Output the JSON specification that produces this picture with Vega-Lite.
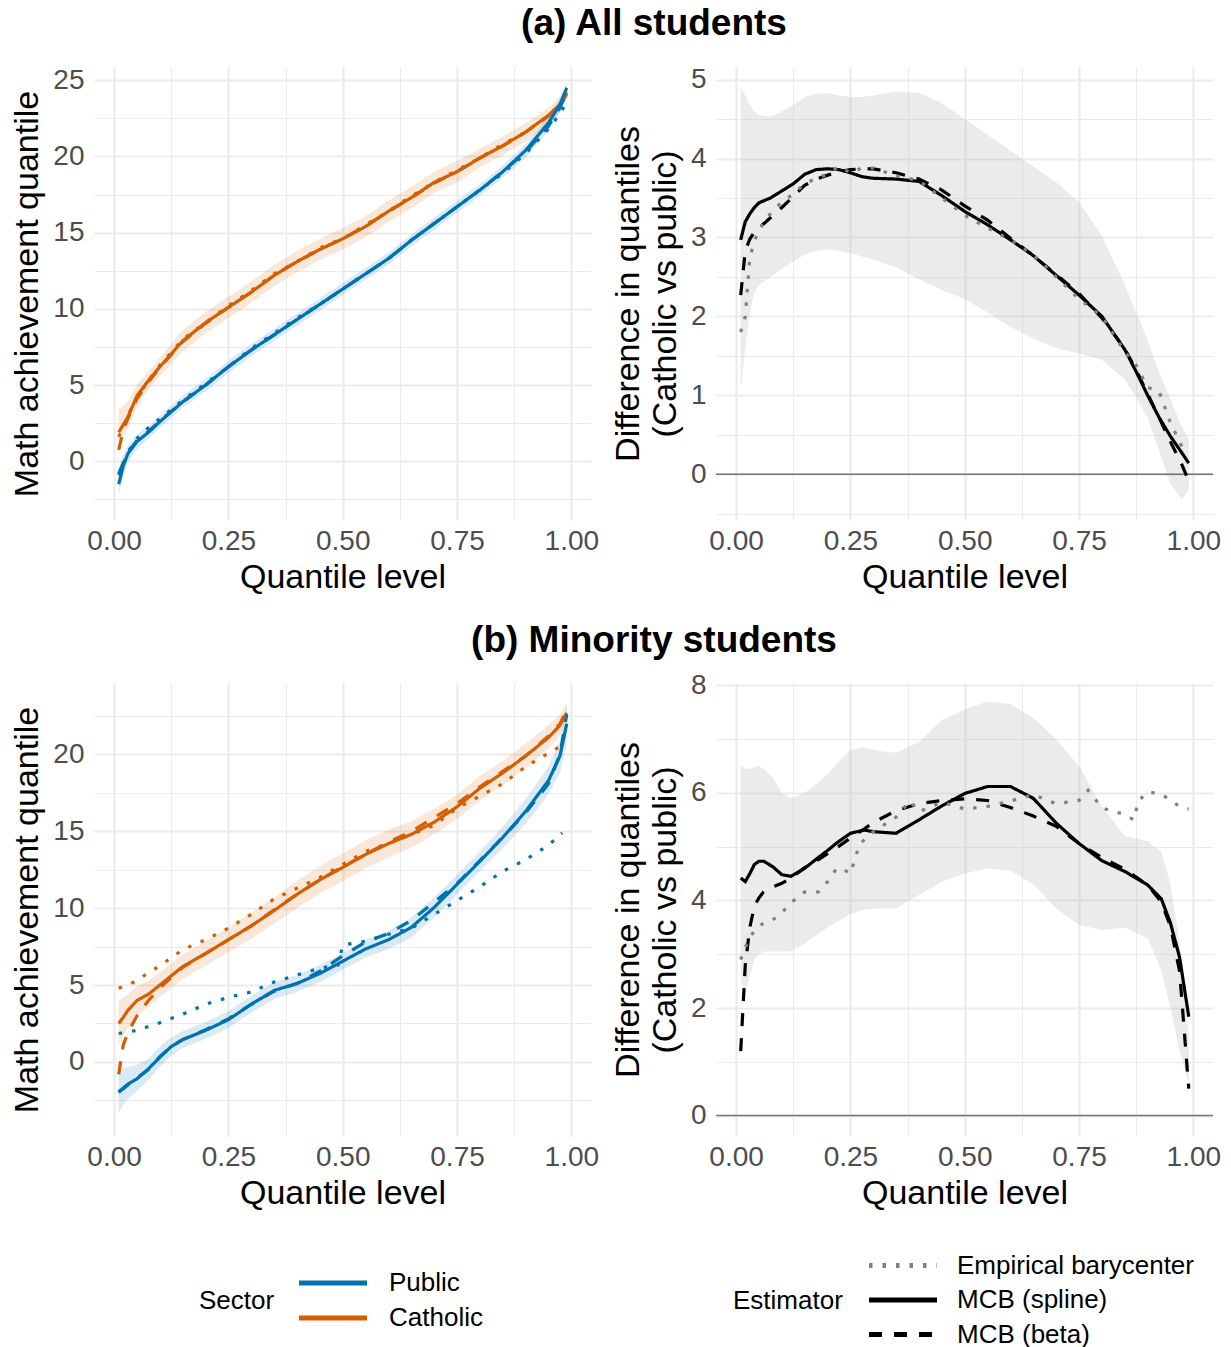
{
"$schema": "https://vega.github.io/schema/vega-lite/v6.json",
"background": "white",
"padding": {"left": 10, "top": 5, "right": 5, "bottom": 0},
"bounds": "flush",
"columns": 2,
"spacing": {"row": 163, "column": 125},
"resolve": {"scale": {"color": "independent", "strokeDash": "independent"}, "legend": {"color": "independent", "strokeDash": "independent"}},
"datasets": {
"tl_lines": [
{"sector":"Catholic","estimator":"MCB (spline)","q":0.01,"v":1.9},{"sector":"Catholic","estimator":"MCB (spline)","q":0.02,"v":2.4},{"sector":"Catholic","estimator":"MCB (spline)","q":0.03,"v":2.9},{"sector":"Catholic","estimator":"MCB (spline)","q":0.05,"v":4.3},{"sector":"Catholic","estimator":"MCB (spline)","q":0.075,"v":5.3},{"sector":"Catholic","estimator":"MCB (spline)","q":0.1,"v":6.2},{"sector":"Catholic","estimator":"MCB (spline)","q":0.15,"v":7.9},{"sector":"Catholic","estimator":"MCB (spline)","q":0.2,"v":9.1},{"sector":"Catholic","estimator":"MCB (spline)","q":0.25,"v":10.1},{"sector":"Catholic","estimator":"MCB (spline)","q":0.3,"v":11.1},{"sector":"Catholic","estimator":"MCB (spline)","q":0.35,"v":12.2},{"sector":"Catholic","estimator":"MCB (spline)","q":0.4,"v":13.1},{"sector":"Catholic","estimator":"MCB (spline)","q":0.45,"v":13.9},{"sector":"Catholic","estimator":"MCB (spline)","q":0.5,"v":14.6},{"sector":"Catholic","estimator":"MCB (spline)","q":0.55,"v":15.4},{"sector":"Catholic","estimator":"MCB (spline)","q":0.6,"v":16.4},{"sector":"Catholic","estimator":"MCB (spline)","q":0.65,"v":17.3},{"sector":"Catholic","estimator":"MCB (spline)","q":0.7,"v":18.3},{"sector":"Catholic","estimator":"MCB (spline)","q":0.75,"v":19.0},{"sector":"Catholic","estimator":"MCB (spline)","q":0.8,"v":19.9},{"sector":"Catholic","estimator":"MCB (spline)","q":0.85,"v":20.7},{"sector":"Catholic","estimator":"MCB (spline)","q":0.9,"v":21.6},{"sector":"Catholic","estimator":"MCB (spline)","q":0.95,"v":22.7},{"sector":"Catholic","estimator":"MCB (spline)","q":0.975,"v":23.4},{"sector":"Catholic","estimator":"MCB (spline)","q":0.99,"v":24.2},
{"sector":"Catholic","estimator":"MCB (beta)","q":0.01,"v":0.75},{"sector":"Catholic","estimator":"MCB (beta)","q":0.02,"v":2.0},{"sector":"Catholic","estimator":"MCB (beta)","q":0.03,"v":2.8},{"sector":"Catholic","estimator":"MCB (beta)","q":0.05,"v":4.1},{"sector":"Catholic","estimator":"MCB (beta)","q":0.075,"v":5.2},{"sector":"Catholic","estimator":"MCB (beta)","q":0.1,"v":6.15},{"sector":"Catholic","estimator":"MCB (beta)","q":0.15,"v":7.85},{"sector":"Catholic","estimator":"MCB (beta)","q":0.2,"v":9.05},{"sector":"Catholic","estimator":"MCB (beta)","q":0.25,"v":10.1},{"sector":"Catholic","estimator":"MCB (beta)","q":0.3,"v":11.1},{"sector":"Catholic","estimator":"MCB (beta)","q":0.35,"v":12.2},{"sector":"Catholic","estimator":"MCB (beta)","q":0.4,"v":13.1},{"sector":"Catholic","estimator":"MCB (beta)","q":0.45,"v":13.9},{"sector":"Catholic","estimator":"MCB (beta)","q":0.5,"v":14.6},{"sector":"Catholic","estimator":"MCB (beta)","q":0.55,"v":15.45},{"sector":"Catholic","estimator":"MCB (beta)","q":0.6,"v":16.4},{"sector":"Catholic","estimator":"MCB (beta)","q":0.65,"v":17.3},{"sector":"Catholic","estimator":"MCB (beta)","q":0.7,"v":18.25},{"sector":"Catholic","estimator":"MCB (beta)","q":0.75,"v":19.0},{"sector":"Catholic","estimator":"MCB (beta)","q":0.8,"v":19.9},{"sector":"Catholic","estimator":"MCB (beta)","q":0.85,"v":20.7},{"sector":"Catholic","estimator":"MCB (beta)","q":0.9,"v":21.6},{"sector":"Catholic","estimator":"MCB (beta)","q":0.95,"v":22.65},{"sector":"Catholic","estimator":"MCB (beta)","q":0.975,"v":23.3},{"sector":"Catholic","estimator":"MCB (beta)","q":0.99,"v":24.1},
{"sector":"Catholic","estimator":"Empirical barycenter","q":0.01,"v":1.6},{"sector":"Catholic","estimator":"Empirical barycenter","q":0.02,"v":2.3},{"sector":"Catholic","estimator":"Empirical barycenter","q":0.03,"v":3.0},{"sector":"Catholic","estimator":"Empirical barycenter","q":0.05,"v":4.2},{"sector":"Catholic","estimator":"Empirical barycenter","q":0.075,"v":5.3},{"sector":"Catholic","estimator":"Empirical barycenter","q":0.1,"v":6.3},{"sector":"Catholic","estimator":"Empirical barycenter","q":0.15,"v":8.0},{"sector":"Catholic","estimator":"Empirical barycenter","q":0.2,"v":9.1},{"sector":"Catholic","estimator":"Empirical barycenter","q":0.25,"v":10.2},{"sector":"Catholic","estimator":"Empirical barycenter","q":0.3,"v":11.2},{"sector":"Catholic","estimator":"Empirical barycenter","q":0.35,"v":12.3},{"sector":"Catholic","estimator":"Empirical barycenter","q":0.4,"v":13.1},{"sector":"Catholic","estimator":"Empirical barycenter","q":0.45,"v":14.0},{"sector":"Catholic","estimator":"Empirical barycenter","q":0.5,"v":14.6},{"sector":"Catholic","estimator":"Empirical barycenter","q":0.55,"v":15.5},{"sector":"Catholic","estimator":"Empirical barycenter","q":0.6,"v":16.4},{"sector":"Catholic","estimator":"Empirical barycenter","q":0.65,"v":17.4},{"sector":"Catholic","estimator":"Empirical barycenter","q":0.7,"v":18.3},{"sector":"Catholic","estimator":"Empirical barycenter","q":0.75,"v":19.1},{"sector":"Catholic","estimator":"Empirical barycenter","q":0.8,"v":19.9},{"sector":"Catholic","estimator":"Empirical barycenter","q":0.85,"v":20.8},{"sector":"Catholic","estimator":"Empirical barycenter","q":0.9,"v":21.6},{"sector":"Catholic","estimator":"Empirical barycenter","q":0.95,"v":22.7},{"sector":"Catholic","estimator":"Empirical barycenter","q":0.975,"v":23.4},{"sector":"Catholic","estimator":"Empirical barycenter","q":0.99,"v":24.0},
{"sector":"Public","estimator":"MCB (spline)","q":0.01,"v":-1.5},{"sector":"Public","estimator":"MCB (spline)","q":0.02,"v":-0.3},{"sector":"Public","estimator":"MCB (spline)","q":0.03,"v":0.5},{"sector":"Public","estimator":"MCB (spline)","q":0.05,"v":1.3},{"sector":"Public","estimator":"MCB (spline)","q":0.075,"v":1.9},{"sector":"Public","estimator":"MCB (spline)","q":0.1,"v":2.6},{"sector":"Public","estimator":"MCB (spline)","q":0.15,"v":3.9},{"sector":"Public","estimator":"MCB (spline)","q":0.2,"v":5.0},{"sector":"Public","estimator":"MCB (spline)","q":0.25,"v":6.2},{"sector":"Public","estimator":"MCB (spline)","q":0.3,"v":7.3},{"sector":"Public","estimator":"MCB (spline)","q":0.35,"v":8.3},{"sector":"Public","estimator":"MCB (spline)","q":0.4,"v":9.3},{"sector":"Public","estimator":"MCB (spline)","q":0.45,"v":10.3},{"sector":"Public","estimator":"MCB (spline)","q":0.5,"v":11.3},{"sector":"Public","estimator":"MCB (spline)","q":0.55,"v":12.3},{"sector":"Public","estimator":"MCB (spline)","q":0.6,"v":13.3},{"sector":"Public","estimator":"MCB (spline)","q":0.65,"v":14.5},{"sector":"Public","estimator":"MCB (spline)","q":0.7,"v":15.6},{"sector":"Public","estimator":"MCB (spline)","q":0.75,"v":16.7},{"sector":"Public","estimator":"MCB (spline)","q":0.8,"v":17.8},{"sector":"Public","estimator":"MCB (spline)","q":0.85,"v":19.0},{"sector":"Public","estimator":"MCB (spline)","q":0.9,"v":20.4},{"sector":"Public","estimator":"MCB (spline)","q":0.95,"v":22.2},{"sector":"Public","estimator":"MCB (spline)","q":0.975,"v":23.4},{"sector":"Public","estimator":"MCB (spline)","q":0.99,"v":24.5},
{"sector":"Public","estimator":"MCB (beta)","q":0.01,"v":-0.8},{"sector":"Public","estimator":"MCB (beta)","q":0.02,"v":-0.1},{"sector":"Public","estimator":"MCB (beta)","q":0.03,"v":0.6},{"sector":"Public","estimator":"MCB (beta)","q":0.05,"v":1.35},{"sector":"Public","estimator":"MCB (beta)","q":0.075,"v":1.95},{"sector":"Public","estimator":"MCB (beta)","q":0.1,"v":2.65},{"sector":"Public","estimator":"MCB (beta)","q":0.15,"v":3.9},{"sector":"Public","estimator":"MCB (beta)","q":0.2,"v":5.0},{"sector":"Public","estimator":"MCB (beta)","q":0.25,"v":6.2},{"sector":"Public","estimator":"MCB (beta)","q":0.3,"v":7.3},{"sector":"Public","estimator":"MCB (beta)","q":0.35,"v":8.3},{"sector":"Public","estimator":"MCB (beta)","q":0.4,"v":9.3},{"sector":"Public","estimator":"MCB (beta)","q":0.45,"v":10.3},{"sector":"Public","estimator":"MCB (beta)","q":0.5,"v":11.3},{"sector":"Public","estimator":"MCB (beta)","q":0.55,"v":12.3},{"sector":"Public","estimator":"MCB (beta)","q":0.6,"v":13.3},{"sector":"Public","estimator":"MCB (beta)","q":0.65,"v":14.5},{"sector":"Public","estimator":"MCB (beta)","q":0.7,"v":15.6},{"sector":"Public","estimator":"MCB (beta)","q":0.75,"v":16.7},{"sector":"Public","estimator":"MCB (beta)","q":0.8,"v":17.8},{"sector":"Public","estimator":"MCB (beta)","q":0.85,"v":19.0},{"sector":"Public","estimator":"MCB (beta)","q":0.9,"v":20.3},{"sector":"Public","estimator":"MCB (beta)","q":0.95,"v":22.0},{"sector":"Public","estimator":"MCB (beta)","q":0.975,"v":23.2},{"sector":"Public","estimator":"MCB (beta)","q":0.99,"v":24.3},
{"sector":"Public","estimator":"Empirical barycenter","q":0.01,"v":-0.9},{"sector":"Public","estimator":"Empirical barycenter","q":0.02,"v":-0.2},{"sector":"Public","estimator":"Empirical barycenter","q":0.03,"v":0.6},{"sector":"Public","estimator":"Empirical barycenter","q":0.05,"v":1.5},{"sector":"Public","estimator":"Empirical barycenter","q":0.075,"v":2.2},{"sector":"Public","estimator":"Empirical barycenter","q":0.1,"v":2.8},{"sector":"Public","estimator":"Empirical barycenter","q":0.15,"v":4.0},{"sector":"Public","estimator":"Empirical barycenter","q":0.2,"v":5.1},{"sector":"Public","estimator":"Empirical barycenter","q":0.25,"v":6.2},{"sector":"Public","estimator":"Empirical barycenter","q":0.3,"v":7.4},{"sector":"Public","estimator":"Empirical barycenter","q":0.35,"v":8.4},{"sector":"Public","estimator":"Empirical barycenter","q":0.4,"v":9.4},{"sector":"Public","estimator":"Empirical barycenter","q":0.45,"v":10.3},{"sector":"Public","estimator":"Empirical barycenter","q":0.5,"v":11.3},{"sector":"Public","estimator":"Empirical barycenter","q":0.55,"v":12.3},{"sector":"Public","estimator":"Empirical barycenter","q":0.6,"v":13.3},{"sector":"Public","estimator":"Empirical barycenter","q":0.65,"v":14.5},{"sector":"Public","estimator":"Empirical barycenter","q":0.7,"v":15.6},{"sector":"Public","estimator":"Empirical barycenter","q":0.75,"v":16.7},{"sector":"Public","estimator":"Empirical barycenter","q":0.8,"v":17.8},{"sector":"Public","estimator":"Empirical barycenter","q":0.85,"v":18.9},{"sector":"Public","estimator":"Empirical barycenter","q":0.9,"v":20.2},{"sector":"Public","estimator":"Empirical barycenter","q":0.95,"v":21.8},{"sector":"Public","estimator":"Empirical barycenter","q":0.975,"v":22.8},{"sector":"Public","estimator":"Empirical barycenter","q":0.99,"v":23.6}
],
"tl_rib": [
{"sector":"Catholic","q":0.01,"lo":0.9,"hi":3.4},{"sector":"Catholic","q":0.02,"lo":1.5,"hi":3.6},{"sector":"Catholic","q":0.03,"lo":2.2,"hi":3.9},{"sector":"Catholic","q":0.05,"lo":3.6,"hi":5.0},{"sector":"Catholic","q":0.075,"lo":4.7,"hi":5.9},{"sector":"Catholic","q":0.1,"lo":5.6,"hi":6.8},{"sector":"Catholic","q":0.15,"lo":7.2,"hi":8.6},{"sector":"Catholic","q":0.2,"lo":8.4,"hi":9.8},{"sector":"Catholic","q":0.25,"lo":9.4,"hi":10.8},{"sector":"Catholic","q":0.3,"lo":10.4,"hi":11.8},{"sector":"Catholic","q":0.35,"lo":11.5,"hi":12.9},{"sector":"Catholic","q":0.4,"lo":12.4,"hi":13.8},{"sector":"Catholic","q":0.45,"lo":13.2,"hi":14.6},{"sector":"Catholic","q":0.5,"lo":13.9,"hi":15.3},{"sector":"Catholic","q":0.55,"lo":14.7,"hi":16.1},{"sector":"Catholic","q":0.6,"lo":15.7,"hi":17.1},{"sector":"Catholic","q":0.65,"lo":16.6,"hi":18.0},{"sector":"Catholic","q":0.7,"lo":17.6,"hi":19.0},{"sector":"Catholic","q":0.75,"lo":18.3,"hi":19.7},{"sector":"Catholic","q":0.8,"lo":19.3,"hi":20.5},{"sector":"Catholic","q":0.85,"lo":20.1,"hi":21.3},{"sector":"Catholic","q":0.9,"lo":21.0,"hi":22.2},{"sector":"Catholic","q":0.95,"lo":22.1,"hi":23.2},{"sector":"Catholic","q":0.975,"lo":22.9,"hi":23.9},{"sector":"Catholic","q":0.99,"lo":23.8,"hi":24.6},
{"sector":"Public","q":0.01,"lo":-2.2,"hi":-0.4},{"sector":"Public","q":0.02,"lo":-1.0,"hi":0.4},{"sector":"Public","q":0.03,"lo":-0.1,"hi":1.0},{"sector":"Public","q":0.05,"lo":0.8,"hi":1.8},{"sector":"Public","q":0.075,"lo":1.5,"hi":2.3},{"sector":"Public","q":0.1,"lo":2.2,"hi":3.0},{"sector":"Public","q":0.15,"lo":3.5,"hi":4.3},{"sector":"Public","q":0.2,"lo":4.6,"hi":5.4},{"sector":"Public","q":0.25,"lo":5.8,"hi":6.6},{"sector":"Public","q":0.3,"lo":6.9,"hi":7.7},{"sector":"Public","q":0.35,"lo":7.9,"hi":8.7},{"sector":"Public","q":0.4,"lo":8.9,"hi":9.7},{"sector":"Public","q":0.45,"lo":9.9,"hi":10.7},{"sector":"Public","q":0.5,"lo":10.9,"hi":11.7},{"sector":"Public","q":0.55,"lo":11.9,"hi":12.7},{"sector":"Public","q":0.6,"lo":12.9,"hi":13.7},{"sector":"Public","q":0.65,"lo":14.1,"hi":14.9},{"sector":"Public","q":0.7,"lo":15.2,"hi":16.0},{"sector":"Public","q":0.75,"lo":16.3,"hi":17.1},{"sector":"Public","q":0.8,"lo":17.4,"hi":18.2},{"sector":"Public","q":0.85,"lo":18.6,"hi":19.4},{"sector":"Public","q":0.9,"lo":19.9,"hi":20.8},{"sector":"Public","q":0.95,"lo":21.7,"hi":22.6},{"sector":"Public","q":0.975,"lo":22.9,"hi":23.8},{"sector":"Public","q":0.99,"lo":24.0,"hi":24.9}
],
"tr_lines": [
{"estimator":"MCB (spline)","q":0.01,"v":2.97},{"estimator":"MCB (spline)","q":0.02,"v":3.2},{"estimator":"MCB (spline)","q":0.03,"v":3.3},{"estimator":"MCB (spline)","q":0.04,"v":3.38},{"estimator":"MCB (spline)","q":0.05,"v":3.44},{"estimator":"MCB (spline)","q":0.075,"v":3.5},{"estimator":"MCB (spline)","q":0.1,"v":3.59},{"estimator":"MCB (spline)","q":0.125,"v":3.68},{"estimator":"MCB (spline)","q":0.15,"v":3.8},{"estimator":"MCB (spline)","q":0.175,"v":3.86},{"estimator":"MCB (spline)","q":0.2,"v":3.87},{"estimator":"MCB (spline)","q":0.225,"v":3.86},{"estimator":"MCB (spline)","q":0.25,"v":3.82},{"estimator":"MCB (spline)","q":0.275,"v":3.77},{"estimator":"MCB (spline)","q":0.3,"v":3.75},{"estimator":"MCB (spline)","q":0.35,"v":3.74},{"estimator":"MCB (spline)","q":0.4,"v":3.71},{"estimator":"MCB (spline)","q":0.45,"v":3.53},{"estimator":"MCB (spline)","q":0.5,"v":3.33},{"estimator":"MCB (spline)","q":0.55,"v":3.16},{"estimator":"MCB (spline)","q":0.6,"v":2.97},{"estimator":"MCB (spline)","q":0.65,"v":2.77},{"estimator":"MCB (spline)","q":0.7,"v":2.52},{"estimator":"MCB (spline)","q":0.75,"v":2.27},{"estimator":"MCB (spline)","q":0.8,"v":2.0},{"estimator":"MCB (spline)","q":0.85,"v":1.58},{"estimator":"MCB (spline)","q":0.875,"v":1.3},{"estimator":"MCB (spline)","q":0.9,"v":1.0},{"estimator":"MCB (spline)","q":0.925,"v":0.72},{"estimator":"MCB (spline)","q":0.95,"v":0.48},{"estimator":"MCB (spline)","q":0.975,"v":0.27},{"estimator":"MCB (spline)","q":0.99,"v":0.14},
{"estimator":"MCB (beta)","q":0.01,"v":2.27},{"estimator":"MCB (beta)","q":0.02,"v":2.83},{"estimator":"MCB (beta)","q":0.03,"v":2.98},{"estimator":"MCB (beta)","q":0.04,"v":3.07},{"estimator":"MCB (beta)","q":0.05,"v":3.12},{"estimator":"MCB (beta)","q":0.075,"v":3.25},{"estimator":"MCB (beta)","q":0.1,"v":3.38},{"estimator":"MCB (beta)","q":0.125,"v":3.52},{"estimator":"MCB (beta)","q":0.15,"v":3.66},{"estimator":"MCB (beta)","q":0.175,"v":3.74},{"estimator":"MCB (beta)","q":0.2,"v":3.79},{"estimator":"MCB (beta)","q":0.225,"v":3.83},{"estimator":"MCB (beta)","q":0.25,"v":3.86},{"estimator":"MCB (beta)","q":0.275,"v":3.87},{"estimator":"MCB (beta)","q":0.3,"v":3.87},{"estimator":"MCB (beta)","q":0.35,"v":3.82},{"estimator":"MCB (beta)","q":0.4,"v":3.74},{"estimator":"MCB (beta)","q":0.45,"v":3.6},{"estimator":"MCB (beta)","q":0.5,"v":3.4},{"estimator":"MCB (beta)","q":0.55,"v":3.22},{"estimator":"MCB (beta)","q":0.6,"v":2.99},{"estimator":"MCB (beta)","q":0.65,"v":2.77},{"estimator":"MCB (beta)","q":0.7,"v":2.53},{"estimator":"MCB (beta)","q":0.75,"v":2.29},{"estimator":"MCB (beta)","q":0.8,"v":1.98},{"estimator":"MCB (beta)","q":0.85,"v":1.59},{"estimator":"MCB (beta)","q":0.875,"v":1.32},{"estimator":"MCB (beta)","q":0.9,"v":1.02},{"estimator":"MCB (beta)","q":0.925,"v":0.72},{"estimator":"MCB (beta)","q":0.95,"v":0.41},{"estimator":"MCB (beta)","q":0.975,"v":0.12},{"estimator":"MCB (beta)","q":0.99,"v":-0.09},
{"estimator":"Empirical barycenter","q":0.01,"v":1.8},{"estimator":"Empirical barycenter","q":0.02,"v":2.0},{"estimator":"Empirical barycenter","q":0.03,"v":2.75},{"estimator":"Empirical barycenter","q":0.04,"v":2.95},{"estimator":"Empirical barycenter","q":0.05,"v":3.1},{"estimator":"Empirical barycenter","q":0.075,"v":3.3},{"estimator":"Empirical barycenter","q":0.1,"v":3.45},{"estimator":"Empirical barycenter","q":0.125,"v":3.55},{"estimator":"Empirical barycenter","q":0.15,"v":3.68},{"estimator":"Empirical barycenter","q":0.175,"v":3.75},{"estimator":"Empirical barycenter","q":0.2,"v":3.8},{"estimator":"Empirical barycenter","q":0.225,"v":3.9},{"estimator":"Empirical barycenter","q":0.25,"v":3.82},{"estimator":"Empirical barycenter","q":0.275,"v":3.88},{"estimator":"Empirical barycenter","q":0.3,"v":3.88},{"estimator":"Empirical barycenter","q":0.35,"v":3.78},{"estimator":"Empirical barycenter","q":0.4,"v":3.72},{"estimator":"Empirical barycenter","q":0.45,"v":3.5},{"estimator":"Empirical barycenter","q":0.5,"v":3.28},{"estimator":"Empirical barycenter","q":0.55,"v":3.12},{"estimator":"Empirical barycenter","q":0.6,"v":2.97},{"estimator":"Empirical barycenter","q":0.65,"v":2.78},{"estimator":"Empirical barycenter","q":0.7,"v":2.5},{"estimator":"Empirical barycenter","q":0.75,"v":2.22},{"estimator":"Empirical barycenter","q":0.8,"v":2.0},{"estimator":"Empirical barycenter","q":0.85,"v":1.55},{"estimator":"Empirical barycenter","q":0.875,"v":1.38},{"estimator":"Empirical barycenter","q":0.9,"v":1.1},{"estimator":"Empirical barycenter","q":0.925,"v":1.05},{"estimator":"Empirical barycenter","q":0.95,"v":0.65},{"estimator":"Empirical barycenter","q":0.975,"v":0.35},{"estimator":"Empirical barycenter","q":0.99,"v":0.42}
],
"tr_rib": [
{"q":0.01,"lo":1.05,"hi":4.9},{"q":0.02,"lo":1.6,"hi":4.8},{"q":0.03,"lo":2.05,"hi":4.68},{"q":0.04,"lo":2.3,"hi":4.6},{"q":0.05,"lo":2.4,"hi":4.55},{"q":0.075,"lo":2.5,"hi":4.53},{"q":0.1,"lo":2.6,"hi":4.6},{"q":0.125,"lo":2.7,"hi":4.68},{"q":0.15,"lo":2.78,"hi":4.78},{"q":0.175,"lo":2.83,"hi":4.82},{"q":0.2,"lo":2.85,"hi":4.83},{"q":0.225,"lo":2.83,"hi":4.8},{"q":0.25,"lo":2.8,"hi":4.78},{"q":0.275,"lo":2.76,"hi":4.78},{"q":0.3,"lo":2.72,"hi":4.8},{"q":0.35,"lo":2.62,"hi":4.85},{"q":0.4,"lo":2.47,"hi":4.83},{"q":0.45,"lo":2.33,"hi":4.7},{"q":0.5,"lo":2.22,"hi":4.5},{"q":0.55,"lo":2.05,"hi":4.3},{"q":0.6,"lo":1.87,"hi":4.1},{"q":0.65,"lo":1.72,"hi":3.9},{"q":0.7,"lo":1.6,"hi":3.7},{"q":0.75,"lo":1.53,"hi":3.45},{"q":0.8,"lo":1.45,"hi":3.02},{"q":0.85,"lo":1.2,"hi":2.4},{"q":0.875,"lo":0.98,"hi":2.05},{"q":0.9,"lo":0.72,"hi":1.7},{"q":0.925,"lo":0.3,"hi":1.3},{"q":0.95,"lo":-0.12,"hi":0.95},{"q":0.975,"lo":-0.32,"hi":0.6},{"q":0.99,"lo":-0.2,"hi":0.45}
],
"bl_lines": [
{"sector":"Catholic","estimator":"MCB (spline)","q":0.01,"v":2.5},{"sector":"Catholic","estimator":"MCB (spline)","q":0.02,"v":2.9},{"sector":"Catholic","estimator":"MCB (spline)","q":0.03,"v":3.35},{"sector":"Catholic","estimator":"MCB (spline)","q":0.05,"v":4.0},{"sector":"Catholic","estimator":"MCB (spline)","q":0.075,"v":4.4},{"sector":"Catholic","estimator":"MCB (spline)","q":0.1,"v":5.0},{"sector":"Catholic","estimator":"MCB (spline)","q":0.125,"v":5.6},{"sector":"Catholic","estimator":"MCB (spline)","q":0.15,"v":6.2},{"sector":"Catholic","estimator":"MCB (spline)","q":0.2,"v":7.05},{"sector":"Catholic","estimator":"MCB (spline)","q":0.25,"v":7.95},{"sector":"Catholic","estimator":"MCB (spline)","q":0.3,"v":8.85},{"sector":"Catholic","estimator":"MCB (spline)","q":0.35,"v":9.85},{"sector":"Catholic","estimator":"MCB (spline)","q":0.4,"v":10.9},{"sector":"Catholic","estimator":"MCB (spline)","q":0.45,"v":11.85},{"sector":"Catholic","estimator":"MCB (spline)","q":0.5,"v":12.65},{"sector":"Catholic","estimator":"MCB (spline)","q":0.55,"v":13.5},{"sector":"Catholic","estimator":"MCB (spline)","q":0.6,"v":14.2},{"sector":"Catholic","estimator":"MCB (spline)","q":0.65,"v":14.8},{"sector":"Catholic","estimator":"MCB (spline)","q":0.7,"v":15.6},{"sector":"Catholic","estimator":"MCB (spline)","q":0.75,"v":16.6},{"sector":"Catholic","estimator":"MCB (spline)","q":0.8,"v":17.8},{"sector":"Catholic","estimator":"MCB (spline)","q":0.85,"v":18.8},{"sector":"Catholic","estimator":"MCB (spline)","q":0.9,"v":19.9},{"sector":"Catholic","estimator":"MCB (spline)","q":0.95,"v":21.1},{"sector":"Catholic","estimator":"MCB (spline)","q":0.975,"v":21.9},{"sector":"Catholic","estimator":"MCB (spline)","q":0.99,"v":22.7},
{"sector":"Catholic","estimator":"MCB (beta)","q":0.01,"v":-0.8},{"sector":"Catholic","estimator":"MCB (beta)","q":0.02,"v":1.1},{"sector":"Catholic","estimator":"MCB (beta)","q":0.03,"v":1.9},{"sector":"Catholic","estimator":"MCB (beta)","q":0.05,"v":3.0},{"sector":"Catholic","estimator":"MCB (beta)","q":0.075,"v":4.0},{"sector":"Catholic","estimator":"MCB (beta)","q":0.1,"v":4.8},{"sector":"Catholic","estimator":"MCB (beta)","q":0.125,"v":5.5},{"sector":"Catholic","estimator":"MCB (beta)","q":0.15,"v":6.15},{"sector":"Catholic","estimator":"MCB (beta)","q":0.2,"v":7.05},{"sector":"Catholic","estimator":"MCB (beta)","q":0.25,"v":7.95},{"sector":"Catholic","estimator":"MCB (beta)","q":0.3,"v":8.85},{"sector":"Catholic","estimator":"MCB (beta)","q":0.35,"v":9.9},{"sector":"Catholic","estimator":"MCB (beta)","q":0.4,"v":10.9},{"sector":"Catholic","estimator":"MCB (beta)","q":0.45,"v":11.85},{"sector":"Catholic","estimator":"MCB (beta)","q":0.5,"v":12.7},{"sector":"Catholic","estimator":"MCB (beta)","q":0.55,"v":13.5},{"sector":"Catholic","estimator":"MCB (beta)","q":0.6,"v":14.3},{"sector":"Catholic","estimator":"MCB (beta)","q":0.65,"v":15.0},{"sector":"Catholic","estimator":"MCB (beta)","q":0.7,"v":15.9},{"sector":"Catholic","estimator":"MCB (beta)","q":0.75,"v":16.8},{"sector":"Catholic","estimator":"MCB (beta)","q":0.8,"v":17.9},{"sector":"Catholic","estimator":"MCB (beta)","q":0.85,"v":18.9},{"sector":"Catholic","estimator":"MCB (beta)","q":0.9,"v":19.9},{"sector":"Catholic","estimator":"MCB (beta)","q":0.95,"v":21.2},{"sector":"Catholic","estimator":"MCB (beta)","q":0.975,"v":22.0},{"sector":"Catholic","estimator":"MCB (beta)","q":0.99,"v":22.9},
{"sector":"Catholic","estimator":"Empirical barycenter","q":0.01,"v":4.8},{"sector":"Catholic","estimator":"Empirical barycenter","q":0.03,"v":5.0},{"sector":"Catholic","estimator":"Empirical barycenter","q":0.05,"v":5.3},{"sector":"Catholic","estimator":"Empirical barycenter","q":0.075,"v":5.8},{"sector":"Catholic","estimator":"Empirical barycenter","q":0.1,"v":6.25},{"sector":"Catholic","estimator":"Empirical barycenter","q":0.15,"v":7.3},{"sector":"Catholic","estimator":"Empirical barycenter","q":0.2,"v":7.95},{"sector":"Catholic","estimator":"Empirical barycenter","q":0.25,"v":8.7},{"sector":"Catholic","estimator":"Empirical barycenter","q":0.3,"v":9.6},{"sector":"Catholic","estimator":"Empirical barycenter","q":0.35,"v":10.6},{"sector":"Catholic","estimator":"Empirical barycenter","q":0.4,"v":11.3},{"sector":"Catholic","estimator":"Empirical barycenter","q":0.45,"v":12.0},{"sector":"Catholic","estimator":"Empirical barycenter","q":0.5,"v":12.85},{"sector":"Catholic","estimator":"Empirical barycenter","q":0.55,"v":13.7},{"sector":"Catholic","estimator":"Empirical barycenter","q":0.6,"v":14.2},{"sector":"Catholic","estimator":"Empirical barycenter","q":0.65,"v":14.8},{"sector":"Catholic","estimator":"Empirical barycenter","q":0.7,"v":15.4},{"sector":"Catholic","estimator":"Empirical barycenter","q":0.75,"v":16.5},{"sector":"Catholic","estimator":"Empirical barycenter","q":0.8,"v":17.3},{"sector":"Catholic","estimator":"Empirical barycenter","q":0.85,"v":18.1},{"sector":"Catholic","estimator":"Empirical barycenter","q":0.9,"v":19.2},{"sector":"Catholic","estimator":"Empirical barycenter","q":0.95,"v":20.1},{"sector":"Catholic","estimator":"Empirical barycenter","q":0.975,"v":20.5},{"sector":"Catholic","estimator":"Empirical barycenter","q":0.99,"v":20.6},
{"sector":"Public","estimator":"MCB (spline)","q":0.01,"v":-2.0},{"sector":"Public","estimator":"MCB (spline)","q":0.02,"v":-1.7},{"sector":"Public","estimator":"MCB (spline)","q":0.03,"v":-1.45},{"sector":"Public","estimator":"MCB (spline)","q":0.05,"v":-1.1},{"sector":"Public","estimator":"MCB (spline)","q":0.075,"v":-0.45},{"sector":"Public","estimator":"MCB (spline)","q":0.1,"v":0.3},{"sector":"Public","estimator":"MCB (spline)","q":0.125,"v":1.0},{"sector":"Public","estimator":"MCB (spline)","q":0.15,"v":1.45},{"sector":"Public","estimator":"MCB (spline)","q":0.2,"v":2.05},{"sector":"Public","estimator":"MCB (spline)","q":0.25,"v":2.75},{"sector":"Public","estimator":"MCB (spline)","q":0.3,"v":3.75},{"sector":"Public","estimator":"MCB (spline)","q":0.35,"v":4.65},{"sector":"Public","estimator":"MCB (spline)","q":0.4,"v":5.1},{"sector":"Public","estimator":"MCB (spline)","q":0.45,"v":5.75},{"sector":"Public","estimator":"MCB (spline)","q":0.5,"v":6.55},{"sector":"Public","estimator":"MCB (spline)","q":0.55,"v":7.35},{"sector":"Public","estimator":"MCB (spline)","q":0.6,"v":7.95},{"sector":"Public","estimator":"MCB (spline)","q":0.65,"v":8.75},{"sector":"Public","estimator":"MCB (spline)","q":0.7,"v":10.05},{"sector":"Public","estimator":"MCB (spline)","q":0.75,"v":11.55},{"sector":"Public","estimator":"MCB (spline)","q":0.8,"v":13.05},{"sector":"Public","estimator":"MCB (spline)","q":0.85,"v":14.6},{"sector":"Public","estimator":"MCB (spline)","q":0.9,"v":16.3},{"sector":"Public","estimator":"MCB (spline)","q":0.95,"v":18.3},{"sector":"Public","estimator":"MCB (spline)","q":0.975,"v":19.9},{"sector":"Public","estimator":"MCB (spline)","q":0.99,"v":22.0},
{"sector":"Public","estimator":"MCB (beta)","q":0.01,"v":-1.9},{"sector":"Public","estimator":"MCB (beta)","q":0.02,"v":-1.75},{"sector":"Public","estimator":"MCB (beta)","q":0.03,"v":-1.5},{"sector":"Public","estimator":"MCB (beta)","q":0.05,"v":-1.05},{"sector":"Public","estimator":"MCB (beta)","q":0.075,"v":-0.5},{"sector":"Public","estimator":"MCB (beta)","q":0.1,"v":0.35},{"sector":"Public","estimator":"MCB (beta)","q":0.125,"v":1.0},{"sector":"Public","estimator":"MCB (beta)","q":0.15,"v":1.45},{"sector":"Public","estimator":"MCB (beta)","q":0.2,"v":2.1},{"sector":"Public","estimator":"MCB (beta)","q":0.25,"v":2.8},{"sector":"Public","estimator":"MCB (beta)","q":0.3,"v":3.75},{"sector":"Public","estimator":"MCB (beta)","q":0.35,"v":4.6},{"sector":"Public","estimator":"MCB (beta)","q":0.4,"v":5.1},{"sector":"Public","estimator":"MCB (beta)","q":0.45,"v":5.9},{"sector":"Public","estimator":"MCB (beta)","q":0.5,"v":6.9},{"sector":"Public","estimator":"MCB (beta)","q":0.55,"v":7.8},{"sector":"Public","estimator":"MCB (beta)","q":0.6,"v":8.35},{"sector":"Public","estimator":"MCB (beta)","q":0.65,"v":9.2},{"sector":"Public","estimator":"MCB (beta)","q":0.7,"v":10.4},{"sector":"Public","estimator":"MCB (beta)","q":0.75,"v":11.6},{"sector":"Public","estimator":"MCB (beta)","q":0.8,"v":13.1},{"sector":"Public","estimator":"MCB (beta)","q":0.85,"v":14.6},{"sector":"Public","estimator":"MCB (beta)","q":0.9,"v":16.2},{"sector":"Public","estimator":"MCB (beta)","q":0.95,"v":18.1},{"sector":"Public","estimator":"MCB (beta)","q":0.975,"v":20.0},{"sector":"Public","estimator":"MCB (beta)","q":0.99,"v":22.6},
{"sector":"Public","estimator":"Empirical barycenter","q":0.01,"v":1.85},{"sector":"Public","estimator":"Empirical barycenter","q":0.03,"v":1.95},{"sector":"Public","estimator":"Empirical barycenter","q":0.05,"v":2.05},{"sector":"Public","estimator":"Empirical barycenter","q":0.075,"v":2.3},{"sector":"Public","estimator":"Empirical barycenter","q":0.1,"v":2.55},{"sector":"Public","estimator":"Empirical barycenter","q":0.15,"v":3.1},{"sector":"Public","estimator":"Empirical barycenter","q":0.2,"v":3.75},{"sector":"Public","estimator":"Empirical barycenter","q":0.25,"v":4.2},{"sector":"Public","estimator":"Empirical barycenter","q":0.3,"v":4.55},{"sector":"Public","estimator":"Empirical barycenter","q":0.35,"v":5.2},{"sector":"Public","estimator":"Empirical barycenter","q":0.4,"v":5.65},{"sector":"Public","estimator":"Empirical barycenter","q":0.45,"v":6.1},{"sector":"Public","estimator":"Empirical barycenter","q":0.49,"v":6.3},{"sector":"Public","estimator":"Empirical barycenter","q":0.5,"v":7.6},{"sector":"Public","estimator":"Empirical barycenter","q":0.55,"v":7.85},{"sector":"Public","estimator":"Empirical barycenter","q":0.6,"v":8.3},{"sector":"Public","estimator":"Empirical barycenter","q":0.65,"v":8.7},{"sector":"Public","estimator":"Empirical barycenter","q":0.7,"v":9.6},{"sector":"Public","estimator":"Empirical barycenter","q":0.75,"v":10.5},{"sector":"Public","estimator":"Empirical barycenter","q":0.8,"v":11.4},{"sector":"Public","estimator":"Empirical barycenter","q":0.85,"v":12.4},{"sector":"Public","estimator":"Empirical barycenter","q":0.9,"v":13.15},{"sector":"Public","estimator":"Empirical barycenter","q":0.95,"v":14.1},{"sector":"Public","estimator":"Empirical barycenter","q":0.98,"v":14.9}
],
"bl_rib": [
{"sector":"Catholic","q":0.01,"lo":1.1,"hi":4.0},{"sector":"Catholic","q":0.02,"lo":1.7,"hi":4.2},{"sector":"Catholic","q":0.03,"lo":2.2,"hi":4.4},{"sector":"Catholic","q":0.05,"lo":3.0,"hi":4.9},{"sector":"Catholic","q":0.075,"lo":3.6,"hi":5.3},{"sector":"Catholic","q":0.1,"lo":4.2,"hi":5.8},{"sector":"Catholic","q":0.125,"lo":4.8,"hi":6.4},{"sector":"Catholic","q":0.15,"lo":5.4,"hi":7.0},{"sector":"Catholic","q":0.2,"lo":6.25,"hi":7.85},{"sector":"Catholic","q":0.25,"lo":7.15,"hi":8.75},{"sector":"Catholic","q":0.3,"lo":8.0,"hi":9.7},{"sector":"Catholic","q":0.35,"lo":9.0,"hi":10.7},{"sector":"Catholic","q":0.4,"lo":10.0,"hi":11.8},{"sector":"Catholic","q":0.45,"lo":10.95,"hi":12.75},{"sector":"Catholic","q":0.5,"lo":11.75,"hi":13.55},{"sector":"Catholic","q":0.55,"lo":12.6,"hi":14.4},{"sector":"Catholic","q":0.6,"lo":13.3,"hi":15.1},{"sector":"Catholic","q":0.65,"lo":13.95,"hi":15.65},{"sector":"Catholic","q":0.7,"lo":14.8,"hi":16.45},{"sector":"Catholic","q":0.75,"lo":15.8,"hi":17.4},{"sector":"Catholic","q":0.8,"lo":17.0,"hi":18.6},{"sector":"Catholic","q":0.85,"lo":18.0,"hi":19.6},{"sector":"Catholic","q":0.9,"lo":19.1,"hi":20.7},{"sector":"Catholic","q":0.95,"lo":20.4,"hi":21.9},{"sector":"Catholic","q":0.975,"lo":21.2,"hi":22.6},{"sector":"Catholic","q":0.99,"lo":22.1,"hi":23.3},
{"sector":"Public","q":0.01,"lo":-3.3,"hi":-0.5},{"sector":"Public","q":0.02,"lo":-2.8,"hi":-0.4},{"sector":"Public","q":0.03,"lo":-2.4,"hi":-0.3},{"sector":"Public","q":0.05,"lo":-1.9,"hi":-0.2},{"sector":"Public","q":0.075,"lo":-1.2,"hi":0.2},{"sector":"Public","q":0.1,"lo":-0.3,"hi":1.0},{"sector":"Public","q":0.125,"lo":0.4,"hi":1.6},{"sector":"Public","q":0.15,"lo":0.9,"hi":2.0},{"sector":"Public","q":0.2,"lo":1.5,"hi":2.6},{"sector":"Public","q":0.25,"lo":2.2,"hi":3.3},{"sector":"Public","q":0.3,"lo":3.2,"hi":4.3},{"sector":"Public","q":0.35,"lo":4.1,"hi":5.2},{"sector":"Public","q":0.4,"lo":4.55,"hi":5.65},{"sector":"Public","q":0.45,"lo":5.2,"hi":6.3},{"sector":"Public","q":0.5,"lo":6.0,"hi":7.1},{"sector":"Public","q":0.55,"lo":6.8,"hi":7.9},{"sector":"Public","q":0.6,"lo":7.35,"hi":8.55},{"sector":"Public","q":0.65,"lo":8.1,"hi":9.4},{"sector":"Public","q":0.7,"lo":9.4,"hi":10.7},{"sector":"Public","q":0.75,"lo":10.9,"hi":12.2},{"sector":"Public","q":0.8,"lo":12.4,"hi":13.7},{"sector":"Public","q":0.85,"lo":13.9,"hi":15.3},{"sector":"Public","q":0.9,"lo":15.5,"hi":17.1},{"sector":"Public","q":0.95,"lo":17.4,"hi":19.2},{"sector":"Public","q":0.975,"lo":18.8,"hi":20.9},{"sector":"Public","q":0.99,"lo":20.7,"hi":23.2}
],
"br_lines": [
{"estimator":"MCB (spline)","q":0.01,"v":4.42},{"estimator":"MCB (spline)","q":0.02,"v":4.35},{"estimator":"MCB (spline)","q":0.03,"v":4.5},{"estimator":"MCB (spline)","q":0.04,"v":4.67},{"estimator":"MCB (spline)","q":0.05,"v":4.73},{"estimator":"MCB (spline)","q":0.06,"v":4.73},{"estimator":"MCB (spline)","q":0.08,"v":4.63},{"estimator":"MCB (spline)","q":0.1,"v":4.48},{"estimator":"MCB (spline)","q":0.12,"v":4.45},{"estimator":"MCB (spline)","q":0.15,"v":4.6},{"estimator":"MCB (spline)","q":0.18,"v":4.8},{"estimator":"MCB (spline)","q":0.2,"v":4.93},{"estimator":"MCB (spline)","q":0.22,"v":5.07},{"estimator":"MCB (spline)","q":0.25,"v":5.25},{"estimator":"MCB (spline)","q":0.28,"v":5.31},{"estimator":"MCB (spline)","q":0.3,"v":5.28},{"estimator":"MCB (spline)","q":0.35,"v":5.25},{"estimator":"MCB (spline)","q":0.4,"v":5.5},{"estimator":"MCB (spline)","q":0.45,"v":5.76},{"estimator":"MCB (spline)","q":0.5,"v":5.99},{"estimator":"MCB (spline)","q":0.55,"v":6.12},{"estimator":"MCB (spline)","q":0.6,"v":6.12},{"estimator":"MCB (spline)","q":0.65,"v":5.9},{"estimator":"MCB (spline)","q":0.7,"v":5.44},{"estimator":"MCB (spline)","q":0.75,"v":5.06},{"estimator":"MCB (spline)","q":0.8,"v":4.74},{"estimator":"MCB (spline)","q":0.85,"v":4.54},{"estimator":"MCB (spline)","q":0.9,"v":4.29},{"estimator":"MCB (spline)","q":0.93,"v":4.03},{"estimator":"MCB (spline)","q":0.95,"v":3.58},{"estimator":"MCB (spline)","q":0.97,"v":2.94},{"estimator":"MCB (spline)","q":0.99,"v":1.84},
{"estimator":"MCB (beta)","q":0.01,"v":1.2},{"estimator":"MCB (beta)","q":0.02,"v":2.8},{"estimator":"MCB (beta)","q":0.03,"v":3.5},{"estimator":"MCB (beta)","q":0.04,"v":3.9},{"estimator":"MCB (beta)","q":0.05,"v":4.05},{"estimator":"MCB (beta)","q":0.06,"v":4.16},{"estimator":"MCB (beta)","q":0.08,"v":4.25},{"estimator":"MCB (beta)","q":0.1,"v":4.32},{"estimator":"MCB (beta)","q":0.12,"v":4.42},{"estimator":"MCB (beta)","q":0.15,"v":4.61},{"estimator":"MCB (beta)","q":0.18,"v":4.76},{"estimator":"MCB (beta)","q":0.2,"v":4.87},{"estimator":"MCB (beta)","q":0.22,"v":4.98},{"estimator":"MCB (beta)","q":0.25,"v":5.16},{"estimator":"MCB (beta)","q":0.28,"v":5.33},{"estimator":"MCB (beta)","q":0.3,"v":5.45},{"estimator":"MCB (beta)","q":0.35,"v":5.67},{"estimator":"MCB (beta)","q":0.4,"v":5.8},{"estimator":"MCB (beta)","q":0.45,"v":5.86},{"estimator":"MCB (beta)","q":0.5,"v":5.89},{"estimator":"MCB (beta)","q":0.55,"v":5.86},{"estimator":"MCB (beta)","q":0.6,"v":5.73},{"estimator":"MCB (beta)","q":0.65,"v":5.57},{"estimator":"MCB (beta)","q":0.7,"v":5.38},{"estimator":"MCB (beta)","q":0.75,"v":5.06},{"estimator":"MCB (beta)","q":0.8,"v":4.8},{"estimator":"MCB (beta)","q":0.85,"v":4.58},{"estimator":"MCB (beta)","q":0.9,"v":4.29},{"estimator":"MCB (beta)","q":0.93,"v":3.97},{"estimator":"MCB (beta)","q":0.95,"v":3.52},{"estimator":"MCB (beta)","q":0.97,"v":2.68},{"estimator":"MCB (beta)","q":0.99,"v":0.5},
{"estimator":"Empirical barycenter","q":0.01,"v":2.9},{"estimator":"Empirical barycenter","q":0.02,"v":3.13},{"estimator":"Empirical barycenter","q":0.04,"v":3.45},{"estimator":"Empirical barycenter","q":0.06,"v":3.58},{"estimator":"Empirical barycenter","q":0.08,"v":3.64},{"estimator":"Empirical barycenter","q":0.1,"v":3.77},{"estimator":"Empirical barycenter","q":0.12,"v":3.96},{"estimator":"Empirical barycenter","q":0.15,"v":4.16},{"estimator":"Empirical barycenter","q":0.18,"v":4.16},{"estimator":"Empirical barycenter","q":0.2,"v":4.35},{"estimator":"Empirical barycenter","q":0.22,"v":4.6},{"estimator":"Empirical barycenter","q":0.24,"v":4.55},{"estimator":"Empirical barycenter","q":0.25,"v":4.5},{"estimator":"Empirical barycenter","q":0.27,"v":5.05},{"estimator":"Empirical barycenter","q":0.3,"v":5.28},{"estimator":"Empirical barycenter","q":0.35,"v":5.55},{"estimator":"Empirical barycenter","q":0.38,"v":5.85},{"estimator":"Empirical barycenter","q":0.4,"v":5.65},{"estimator":"Empirical barycenter","q":0.45,"v":5.83},{"estimator":"Empirical barycenter","q":0.5,"v":5.7},{"estimator":"Empirical barycenter","q":0.55,"v":5.75},{"estimator":"Empirical barycenter","q":0.6,"v":5.85},{"estimator":"Empirical barycenter","q":0.65,"v":5.97},{"estimator":"Empirical barycenter","q":0.7,"v":5.8},{"estimator":"Empirical barycenter","q":0.75,"v":5.86},{"estimator":"Empirical barycenter","q":0.77,"v":6.05},{"estimator":"Empirical barycenter","q":0.8,"v":5.72},{"estimator":"Empirical barycenter","q":0.85,"v":5.6},{"estimator":"Empirical barycenter","q":0.87,"v":5.5},{"estimator":"Empirical barycenter","q":0.88,"v":5.85},{"estimator":"Empirical barycenter","q":0.9,"v":6.02},{"estimator":"Empirical barycenter","q":0.93,"v":5.98},{"estimator":"Empirical barycenter","q":0.95,"v":5.86},{"estimator":"Empirical barycenter","q":0.97,"v":5.75},{"estimator":"Empirical barycenter","q":0.99,"v":5.7}
],
"br_rib": [
{"q":0.01,"lo":2.5,"hi":6.5},{"q":0.02,"lo":2.3,"hi":6.45},{"q":0.03,"lo":2.6,"hi":6.45},{"q":0.04,"lo":2.9,"hi":6.48},{"q":0.05,"lo":3.0,"hi":6.5},{"q":0.06,"lo":3.05,"hi":6.45},{"q":0.08,"lo":3.05,"hi":6.3},{"q":0.1,"lo":3.05,"hi":6.0},{"q":0.12,"lo":3.05,"hi":5.9},{"q":0.15,"lo":3.2,"hi":6.0},{"q":0.18,"lo":3.38,"hi":6.2},{"q":0.2,"lo":3.5,"hi":6.35},{"q":0.22,"lo":3.6,"hi":6.55},{"q":0.25,"lo":3.75,"hi":6.8},{"q":0.28,"lo":3.83,"hi":6.85},{"q":0.3,"lo":3.85,"hi":6.8},{"q":0.35,"lo":3.85,"hi":6.75},{"q":0.4,"lo":4.1,"hi":6.95},{"q":0.45,"lo":4.35,"hi":7.35},{"q":0.5,"lo":4.5,"hi":7.55},{"q":0.55,"lo":4.6,"hi":7.7},{"q":0.6,"lo":4.55,"hi":7.65},{"q":0.65,"lo":4.3,"hi":7.4},{"q":0.7,"lo":3.85,"hi":7.0},{"q":0.75,"lo":3.55,"hi":6.5},{"q":0.8,"lo":3.45,"hi":5.75},{"q":0.85,"lo":3.5,"hi":5.2},{"q":0.9,"lo":3.3,"hi":5.1},{"q":0.93,"lo":2.7,"hi":4.9},{"q":0.95,"lo":2.0,"hi":4.3},{"q":0.97,"lo":1.2,"hi":3.2},{"q":0.99,"lo":0.6,"hi":1.5}
]
},
"concat": [
{
"width": 497, "height": 453,
"title": {"text": "(a) All students", "anchor": "middle", "frame": "group", "dx": 311.5, "offset": 23, "fontSize": 37, "fontWeight": "bold", "color": "#000000"},
"layer": [
{"data": {"name": "tl_rib"}, "mark": {"type": "area", "fillOpacity": 0.15},
 "encoding": {
  "x": {"field": "q", "type": "quantitative", "scale": {"domain": [-0.044, 1.043], "nice": false, "zero": false},
        "axis": {"title": "Quantile level", "values": [0,0.125,0.25,0.375,0.5,0.625,0.75,0.875,1], "labelExpr": "(datum.value*8)%2===0 ? format(datum.value,'.2f') : ''", "gridWidth": {"condition": {"test": "(datum.value*8)%2===0", "value": 2.2}, "value": 1.1}, "labelFlush": false, "labelOverlap": false}},
  "y": {"field": "lo", "type": "quantitative", "scale": {"domain": [-3.85, 25.87], "nice": false, "zero": false},
        "axis": {"title": "Math achievement quantile", "values": [-2.5,0,2.5,5,7.5,10,12.5,15,17.5,20,22.5,25], "labelExpr": "datum.value%5===0 ? format(datum.value,'d') : ''", "gridWidth": {"condition": {"test": "datum.value%5===0", "value": 2.2}, "value": 1.1}, "labelOverlap": false}},
  "y2": {"field": "hi"},
  "color": {"field": "sector", "type": "nominal", "scale": {"domain": ["Public","Catholic"], "range": ["#0072B2","#D55E00"]}, "legend": null}
 }},
{"data": {"name": "tl_lines"}, "mark": {"type": "line", "strokeWidth": 3.2, "strokeCap": "butt"},
 "encoding": {
  "x": {"field": "q", "type": "quantitative"},
  "y": {"field": "v", "type": "quantitative"},
  "color": {"field": "sector", "type": "nominal", "legend": null},
  "strokeDash": {"field": "estimator", "type": "nominal", "scale": {"domain": ["Empirical barycenter","MCB (spline)","MCB (beta)"], "range": [[3.5,10],[1,0],[13,12]]}, "legend": null}
 }}
]
},
{
"width": 497, "height": 453,
"layer": [
{"data": {"name": "tr_rib"}, "mark": {"type": "area", "color": "#bdbdbd", "opacity": 0.3},
 "encoding": {
  "x": {"field": "q", "type": "quantitative", "scale": {"domain": [-0.044, 1.043], "nice": false, "zero": false},
        "axis": {"title": "Quantile level", "values": [0,0.125,0.25,0.375,0.5,0.625,0.75,0.875,1], "labelExpr": "(datum.value*8)%2===0 ? format(datum.value,'.2f') : ''", "gridWidth": {"condition": {"test": "(datum.value*8)%2===0", "value": 2.2}, "value": 1.1}, "labelFlush": false, "labelOverlap": false}},
  "y": {"field": "lo", "type": "quantitative", "scale": {"domain": [-0.58, 5.16], "nice": false, "zero": false},
        "axis": {"title": ["Difference in quantiles", "(Catholic vs public)"], "titlePadding": 8, "values": [-0.5,0,0.5,1,1.5,2,2.5,3,3.5,4,4.5,5], "labelExpr": "datum.value%1===0 ? format(datum.value,'d') : ''", "gridWidth": {"condition": {"test": "datum.value%1===0", "value": 2.2}, "value": 1.1}, "labelOverlap": false}},
  "y2": {"field": "hi"}
 }},
{"data": {"values": [{}]}, "mark": {"type": "rule", "color": "#737373", "strokeWidth": 1.6},
 "encoding": {"y": {"datum": 0}}},
{"data": {"name": "tr_lines"}, "mark": {"type": "line", "strokeWidth": 3.2, "strokeCap": "butt"},
 "encoding": {
  "x": {"field": "q", "type": "quantitative"},
  "y": {"field": "v", "type": "quantitative"},
  "color": {"field": "estimator", "type": "nominal", "scale": {"domain": ["Empirical barycenter","MCB (spline)","MCB (beta)"], "range": ["#808080","#000000","#000000"]}, "legend": null},
  "strokeDash": {"field": "estimator", "type": "nominal", "scale": {"domain": ["Empirical barycenter","MCB (spline)","MCB (beta)"], "range": [[3.5,10],[1,0],[13,12]]}, "legend": null}
 }}
]
},
{
"width": 497, "height": 453,
"title": {"text": "(b) Minority students", "anchor": "middle", "frame": "group", "dx": 311.5, "offset": 23, "fontSize": 37, "fontWeight": "bold", "color": "#000000"},
"layer": [
{"data": {"name": "bl_lines"}, "mark": {"type": "line", "strokeWidth": 3.2, "strokeCap": "butt"},
 "encoding": {
  "x": {"field": "q", "type": "quantitative", "scale": {"domain": [-0.044, 1.043], "nice": false, "zero": false},
        "axis": {"title": "Quantile level", "values": [0,0.125,0.25,0.375,0.5,0.625,0.75,0.875,1], "labelExpr": "(datum.value*8)%2===0 ? format(datum.value,'.2f') : ''", "gridWidth": {"condition": {"test": "(datum.value*8)%2===0", "value": 2.2}, "value": 1.1}, "labelFlush": false, "labelOverlap": false}},
  "y": {"field": "v", "type": "quantitative", "scale": {"domain": [-4.82, 24.65], "nice": false, "zero": false},
        "axis": {"title": "Math achievement quantile", "values": [-2.5,0,2.5,5,7.5,10,12.5,15,17.5,20,22.5], "labelExpr": "datum.value%5===0 ? format(datum.value,'d') : ''", "gridWidth": {"condition": {"test": "datum.value%5===0", "value": 2.2}, "value": 1.1}, "labelOverlap": false}},
  "color": {"field": "sector", "type": "nominal", "scale": {"domain": ["Public","Catholic"], "range": ["#0072B2","#D55E00"]},
    "legend": {"title": "Sector", "orient": "none", "legendX": 105, "legendY": 587, "direction": "vertical", "titleOrient": "left", "titleAnchor": "middle", "titleBaseline": "middle", "titlePadding": 23.5, "titleFontSize": 26, "titleFontWeight": "normal", "titleColor": "#000000", "labelFontSize": 26, "labelColor": "#000000", "labelLimit": 400, "symbolType": "M-3.4,0H3.4", "symbolSize": 400, "symbolStrokeWidth": 5, "symbolOpacity": 1, "symbolOffset": 21.5, "labelOffset": 43, "rowPadding": 9, "padding": 0}},
  "strokeDash": {"field": "estimator", "type": "nominal", "scale": {"domain": ["Empirical barycenter","MCB (spline)","MCB (beta)"], "range": [[3.5,10],[1,0],[13,12]]}, "legend": null}
 }},
{"data": {"name": "bl_rib"}, "mark": {"type": "area", "fillOpacity": 0.15},
 "encoding": {
  "x": {"field": "q", "type": "quantitative"},
  "y": {"field": "lo", "type": "quantitative"},
  "y2": {"field": "hi"},
  "color": {"field": "sector", "type": "nominal"}
 }}
]
},
{
"width": 497, "height": 453,
"layer": [
{"data": {"name": "br_rib"}, "mark": {"type": "area", "color": "#bdbdbd", "opacity": 0.3},
 "encoding": {
  "x": {"field": "q", "type": "quantitative", "scale": {"domain": [-0.044, 1.043], "nice": false, "zero": false},
        "axis": {"title": "Quantile level", "values": [0,0.125,0.25,0.375,0.5,0.625,0.75,0.875,1], "labelExpr": "(datum.value*8)%2===0 ? format(datum.value,'.2f') : ''", "gridWidth": {"condition": {"test": "(datum.value*8)%2===0", "value": 2.2}, "value": 1.1}, "labelFlush": false, "labelOverlap": false}},
  "y": {"field": "lo", "type": "quantitative", "scale": {"domain": [-0.38, 8.045], "nice": false, "zero": false},
        "axis": {"title": ["Difference in quantiles", "(Catholic vs public)"], "titlePadding": 8, "values": [0,1,2,3,4,5,6,7,8], "labelExpr": "datum.value%2===0 ? format(datum.value,'d') : ''", "gridWidth": {"condition": {"test": "datum.value%2===0", "value": 2.2}, "value": 1.1}, "labelOverlap": false}},
  "y2": {"field": "hi"}
 }},
{"data": {"values": [{}]}, "mark": {"type": "rule", "color": "#737373", "strokeWidth": 1.6},
 "encoding": {"y": {"datum": 0}}},
{"data": {"name": "br_lines"}, "mark": {"type": "line", "strokeWidth": 3.2, "strokeCap": "butt"},
 "encoding": {
  "x": {"field": "q", "type": "quantitative"},
  "y": {"field": "v", "type": "quantitative"},
  "color": {"field": "estimator", "type": "nominal", "scale": {"domain": ["Empirical barycenter","MCB (spline)","MCB (beta)"], "range": ["#808080","#000000","#000000"]},
    "legend": {"title": "Estimator", "orient": "none", "legendX": 17, "legendY": 569.5, "direction": "vertical", "titleOrient": "left", "titleAnchor": "middle", "titleBaseline": "middle", "titlePadding": 25.5, "titleFontSize": 26, "titleFontWeight": "normal", "titleColor": "#000000", "labelFontSize": 26, "labelColor": "#000000", "labelLimit": 400, "symbolType": "M-3.4,0H3.4", "symbolSize": 400, "symbolStrokeWidth": 5, "symbolOffset": 21.5, "labelOffset": 41, "rowPadding": 8.5, "padding": 0}},
  "strokeDash": {"field": "estimator", "type": "nominal", "scale": {"domain": ["Empirical barycenter","MCB (spline)","MCB (beta)"], "range": [[3.5,10],[1,0],[13,12]]},
    "legend": {"title": "Estimator", "orient": "none", "legendX": 17, "legendY": 569.5, "direction": "vertical", "titleOrient": "left", "titleAnchor": "middle", "titleBaseline": "middle", "titlePadding": 25.5, "titleFontSize": 26, "titleFontWeight": "normal", "titleColor": "#000000", "labelFontSize": 26, "labelColor": "#000000", "labelLimit": 400, "symbolType": "M-3.4,0H3.4", "symbolSize": 400, "symbolStrokeWidth": 5, "symbolOffset": 21.5, "labelOffset": 41, "rowPadding": 8.5, "padding": 0}}
 }}
]
}
],
"config": {
 "font": "Liberation Sans",
 "view": {"stroke": null},
 "title": {"font": "Liberation Sans"},
 "axis": {"domain": false, "ticks": false, "gridColor": "#ebebeb", "labelFont": "Liberation Sans", "labelFontSize": 28, "labelColor": "#4d4d4d", "titleFont": "Liberation Sans", "titleFontSize": 34, "titleFontWeight": "normal", "titleColor": "#000000", "titleLineHeight": 37},
 "axisX": {"labelPadding": 7, "titlePadding": 5},
 "axisY": {"labelPadding": 10, "titlePadding": 8},
 "legend": {"labelFont": "Liberation Sans", "titleFont": "Liberation Sans"}
}
}
